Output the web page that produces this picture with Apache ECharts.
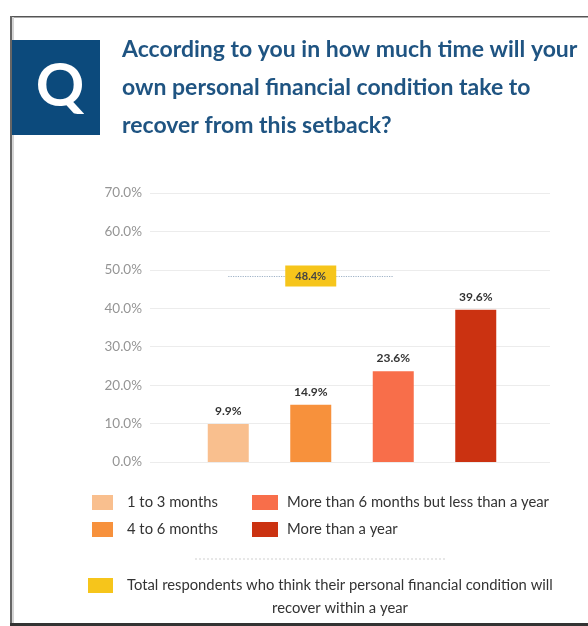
<!DOCTYPE html>
<html>
<head>
<meta charset="utf-8">
<script src="https://cdn.jsdelivr.net/npm/echarts@6/dist/echarts.min.js"></script>
<style>
  html, body { margin: 0; padding: 0; background: #ffffff; }
  #chart { width: 588px; height: 626px; }
</style>
</head>
<body>
<div id="chart"></div>
<script>
// Survey answers: time needed for personal finances to recover
const categories = ['1 to 3 months', '4 to 6 months', 'More than 6 months but less than a year', 'More than a year'];
const shares = [9.9, 14.9, 23.6, 39.6];
const barColors = ['#f9bf8e', '#f7913c', '#f86e4a', '#cb3211'];
// Share expecting recovery within a year (first three answers)
const withinYear = 48.4;
const withinYearLines = ['Total respondents who think their personal financial condition will', 'recover within a year'];
const yTicks = { min: 0, max: 70, interval: 10 };
const titleLines = ['According to you in how much time will your', 'own personal financial condition take to', 'recover from this setback?'];

const FONT = 'Lato, "Open Sans", sans-serif';
const chart = echarts.init(document.getElementById('chart'), null, { renderer: 'canvas' });

const gridTop = 193, gridBottom = 164;

const barSeries = categories.map((name, i) => ({
  name: name,
  type: 'bar',
  xAxisIndex: 1,
  yAxisIndex: 1,
  barWidth: 41,
  barGap: '-100%',
  itemStyle: { color: barColors[i] },
  data: categories.map((c, j) => (j === i ? shares[i] : '-')),
  label: {
    show: true,
    position: 'top',
    distance: 7,
    formatter: p => p.value.toFixed(1) + '%',
    color: '#333',
    fontFamily: FONT,
    fontWeight: 'bold',
    fontSize: 12
  }
}));

const totalSeries = {
  name: withinYearLines[0],
  type: 'line',
  xAxisIndex: 1,
  yAxisIndex: 1,
  color: '#f6c51b',
  data: categories.map(() => '-'),
  markLine: {
    silent: true,
    symbol: 'none',
    label: { show: false },
    lineStyle: { type: 'dotted', color: '#9fb2c6', width: 1.2 },
    data: [[{ coord: [categories[0], withinYear] }, { coord: [categories[2], withinYear] }]]
  },
  markPoint: {
    silent: true,
    symbol: 'rect',
    symbolSize: [51, 21],
    itemStyle: { color: '#f6c51b' },
    label: {
      show: true,
      position: 'inside',
      formatter: p => p.value.toFixed(1) + '%',
      color: '#444',
      fontFamily: FONT,
      fontWeight: 'bold',
      fontSize: 11
    },
    data: [{ coord: [categories[1], withinYear], value: withinYear }]
  }
};

const legendText = pad => ({ color: '#333', fontFamily: FONT, fontSize: 14.8, padding: [0, 0, 0, pad] });

chart.setOption({
  animation: false,
  backgroundColor: '#ffffff',
  grid: [
    { left: 150, right: 38, top: gridTop, bottom: gridBottom },
    { left: 187, right: 71, top: gridTop, bottom: gridBottom }
  ],
  xAxis: [
    { gridIndex: 0, type: 'value', min: 0, max: 1, show: false },
    { gridIndex: 1, type: 'category', data: categories, show: false }
  ],
  yAxis: [
    {
      gridIndex: 0, type: 'value', min: yTicks.min, max: yTicks.max, interval: yTicks.interval,
      axisLine: { show: false }, axisTick: { show: false },
      axisLabel: { margin: 8, color: '#959595', fontFamily: FONT, fontSize: 13.5, formatter: v => v.toFixed(1) + '%' },
      splitLine: { lineStyle: { color: '#ececec', width: 1 } }
    },
    { gridIndex: 1, type: 'value', min: yTicks.min, max: yTicks.max, interval: yTicks.interval, show: false, splitLine: { show: false } }
  ],
  legend: [
    {
      data: categories.slice(0, 2), orient: 'vertical', left: 87, top: 490,
      icon: 'rect', itemWidth: 21, itemHeight: 15, itemGap: 12, textStyle: legendText(9)
    },
    {
      data: categories.slice(2, 4), orient: 'vertical', left: 247, top: 490,
      icon: 'rect', itemWidth: 26, itemHeight: 15, itemGap: 12, textStyle: legendText(4)
    },
    {
      data: [withinYearLines[0]], left: 83, top: 573,
      icon: 'rect', itemWidth: 25, itemHeight: 15, textStyle: legendText(9)
    }
  ],
  series: barSeries.concat([totalSeries]),
  graphic: [
    // frame
    { type: 'rect', silent: true, shape: { x: 10, y: 16, width: 578, height: 1.5 }, style: { fill: '#555' } },
    { type: 'rect', silent: true, shape: { x: 10, y: 16, width: 2, height: 610 }, style: { fill: '#666' } },
    { type: 'rect', silent: true, shape: { x: 12, y: 17, width: 2, height: 609 }, style: { fill: '#d4d4d4' } },
    { type: 'rect', silent: true, shape: { x: 10, y: 623, width: 578, height: 3 }, style: { fill: '#333' } },
    // Q badge
    { type: 'rect', silent: true, shape: { x: 12, y: 40, width: 88, height: 95 }, style: { fill: '#0c4a7c' } },
    {
      type: 'text', silent: true, x: 60, y: 87,
      style: { text: 'Q', fill: '#ffffff', font: 'bold 60px ' + FONT, align: 'center', verticalAlign: 'middle' }
    },
    // question heading
    {
      type: 'text', silent: true, x: 122, y: 31,
      style: { text: titleLines.join('\n'), fill: '#1f5482', font: 'bold 23px ' + FONT, lineHeight: 38 }
    },
    // separator above the total legend
    {
      type: 'line', silent: true, shape: { x1: 195, y1: 559, x2: 445, y2: 559 },
      style: { stroke: '#cfcfcf', lineWidth: 1, lineDash: [2, 2] }
    },
    {
      type: 'text', silent: true, x: 340, y: 608,
      style: { text: withinYearLines[1], fill: '#333', font: '14.8px ' + FONT, align: 'center', verticalAlign: 'middle' }
    }
  ]
});
</script>
</body>
</html>
